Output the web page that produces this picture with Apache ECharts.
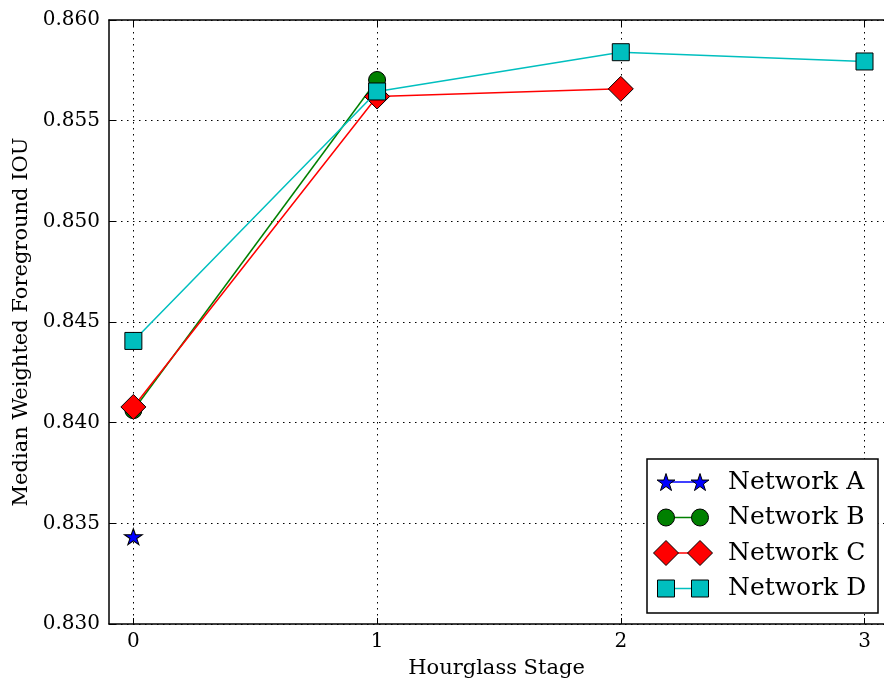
<!DOCTYPE html>
<html>
<head>
<meta charset="utf-8">
<script src="https://cdn.jsdelivr.net/npm/echarts@6/dist/echarts.min.js"></script>
<style>
  html, body { margin: 0; padding: 0; background: #fff; }
  #chart { width: 884px; height: 684px; }
</style>
</head>
<body>
<div id="chart"></div>
<script>
// Hourglass stages on the x axis
const stages = [0, 1, 2, 3];
const xTicks = [0, 1, 2, 3];
const yTicks = [0.830, 0.835, 0.840, 0.845, 0.850, 0.855, 0.860];

// Median weighted foreground IOU per network (one value per stage evaluated)
const networkNames = ['Network A', 'Network B', 'Network C', 'Network D'];
const networkA = [0.83434];
const networkB = [0.84062, 0.85702];
const networkC = [0.84078, 0.85620, 0.85658];
const networkD = [0.84406, 0.85645, 0.85840, 0.85794];

const FONT = 'DejaVu Serif';

// Five-pointed star outline
function starPath() {
  const pts = [];
  const R = 50, r = R * 0.381966;
  for (let i = 0; i < 10; i++) {
    const rad = (i % 2 === 0) ? R : r;
    const a = -Math.PI / 2 + i * Math.PI / 5;
    pts.push((50 + rad * Math.cos(a)).toFixed(3) + ' ' + (50 + rad * Math.sin(a)).toFixed(3));
  }
  return 'path://M' + pts.join(' L') + ' Z';
}
const STAR = starPath();

const styles = [
  { color: '#0000ff', symbol: STAR, size: [18, 17] },
  { color: '#008000', symbol: 'circle', size: 17 },
  { color: '#ff0000', symbol: 'diamond', size: 25 },
  { color: '#00bfbf', symbol: 'rect', size: 17 }
];
const seriesValues = [networkA, networkB, networkC, networkD];

const series = seriesValues.map((vals, i) => ({
  name: networkNames[i],
  type: 'line',
  data: vals.map((v, j) => [stages[j], v]),
  symbol: styles[i].symbol,
  symbolSize: styles[i].size,
  symbolKeepAspect: true,
  lineStyle: { color: styles[i].color, width: 1.5 },
  itemStyle: { color: styles[i].color, borderColor: '#000', borderWidth: 1 },
  emphasis: { disabled: true },
  animation: false,
  z: 2 + i,
  clip: false
}));

// Plot area runs to the right edge of the canvas; the axis continues past it
const grid = { left: 109, top: 20, right: 0, bottom: 56 };
const xMin = -0.1, xMax = 3.08;

// Legend: line with a marker at each end, then the name
const legendBox = { x: 647, y: 459, w: 231, h: 154 };
const legendRows = [482, 517.5, 553, 588.5];
const legendItems = [];
networkNames.forEach((name, i) => {
  const y = legendRows[i];
  const st = styles[i];
  const sz = Array.isArray(st.size) ? st.size : [st.size, st.size];
  legendItems.push({
    type: 'line',
    shape: { x1: 666, y1: y, x2: 700, y2: y },
    style: { stroke: st.color, lineWidth: 1.5 },
    z: 100
  });
  [666, 700].forEach(cx => {
    if (st.symbol === 'circle') {
      legendItems.push({ type: 'circle', shape: { cx: cx, cy: y, r: sz[0] / 2 },
        style: { fill: st.color, stroke: '#000', lineWidth: 1 }, z: 101 });
    } else if (st.symbol === 'rect') {
      legendItems.push({ type: 'rect', shape: { x: cx - sz[0] / 2, y: y - sz[1] / 2, width: sz[0], height: sz[1] },
        style: { fill: st.color, stroke: '#000', lineWidth: 1 }, z: 101 });
    } else if (st.symbol === 'diamond') {
      const h = sz[0] / 2;
      legendItems.push({ type: 'polygon', shape: { points: [[cx, y - h], [cx + h, y], [cx, y + h], [cx - h, y]] },
        style: { fill: st.color, stroke: '#000', lineWidth: 1 }, z: 101 });
    } else {
      const R = sz[1] / 1.809, r = R * 0.381966;
      const pts = [];
      for (let k = 0; k < 10; k++) {
        const rad = (k % 2 === 0) ? R : r;
        const a = -Math.PI / 2 + k * Math.PI / 5;
        pts.push([cx + rad * Math.cos(a), y + 0.1 * R + rad * Math.sin(a)]);
      }
      legendItems.push({ type: 'polygon', shape: { points: pts },
        style: { fill: st.color, stroke: '#000', lineWidth: 1 }, z: 101 });
    }
  });
  legendItems.push({
    type: 'text', x: 728, y: y,
    style: { text: name, font: '25px "' + FONT + '"', fill: '#000', textVerticalAlign: 'middle', textAlign: 'left' },
    z: 101
  });
});

const option = {
  backgroundColor: '#fff',
  animation: false,
  textStyle: { fontFamily: FONT },
  grid: grid,
  xAxis: [{
    type: 'value',
    min: xMin,
    max: xMax,
    name: 'Hourglass Stage',
    nameLocation: 'middle',
    nameGap: 34,
    nameTextStyle: { fontFamily: FONT, fontSize: 21, color: '#000' },
    axisLine: { onZero: false, lineStyle: { color: '#000', width: 1.5 } },
    axisTick: { inside: true, length: 6, customValues: xTicks, lineStyle: { color: '#000', width: 1 } },
    axisLabel: { customValues: xTicks, margin: 8, fontFamily: FONT, fontSize: 20, color: '#000', formatter: v => String(v) },
    splitLine: { show: true, lineStyle: { color: '#000', width: 1, type: [1.5, 4.5] } }
  }, {
    type: 'value',
    position: 'top',
    min: xMin,
    max: xMax,
    axisLine: { onZero: false, lineStyle: { color: '#000', width: 1.5 } },
    axisTick: { inside: true, length: 6, customValues: xTicks, lineStyle: { color: '#000', width: 1 } },
    axisLabel: { show: false },
    splitLine: { show: false }
  }],
  yAxis: {
    type: 'value',
    min: yTicks[0],
    max: yTicks[yTicks.length - 1],
    interval: 0.005,
    name: 'Median Weighted Foreground IOU',
    nameLocation: 'middle',
    nameRotate: 90,
    nameGap: 77,
    nameTextStyle: { fontFamily: FONT, fontSize: 21, color: '#000' },
    axisLine: { onZero: false, lineStyle: { color: '#000', width: 1.5 } },
    axisTick: { inside: true, length: 6, lineStyle: { color: '#000', width: 1 } },
    axisLabel: { margin: 9, fontFamily: FONT, fontSize: 20, color: '#000', formatter: v => v.toFixed(3) },
    splitLine: { show: true, lineStyle: { color: '#000', width: 1, type: [1.5, 4.5] } }
  },
  series: series,
  graphic: [{
    type: 'rect',
    shape: { x: legendBox.x, y: legendBox.y, width: legendBox.w, height: legendBox.h },
    style: { fill: '#fff', stroke: '#000', lineWidth: 1.5 },
    z: 99
  }].concat(legendItems)
};

const chart = echarts.init(document.getElementById('chart'), null, { renderer: 'canvas' });
chart.setOption(option);
</script>
</body>
</html>
